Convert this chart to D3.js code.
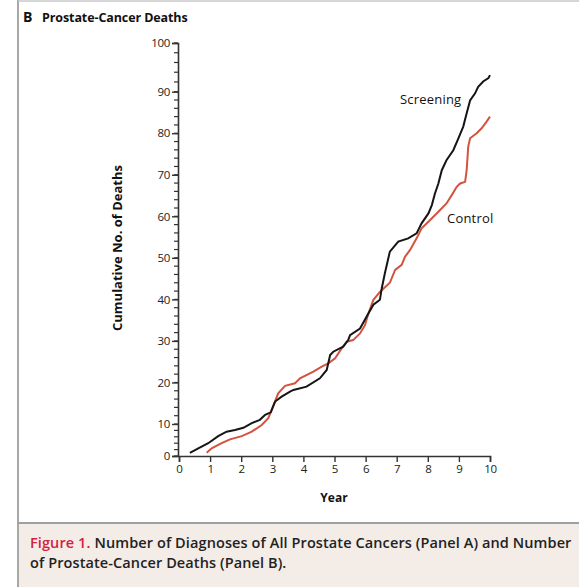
<!DOCTYPE html>
<html>
<head>
<meta charset="utf-8">
<script src="https://cdn.jsdelivr.net/npm/d3@7"></script>
<style>
  body { margin: 0; background: #fff; }
  svg text { font-family: "Open Sans", Lato, sans-serif; }
</style>
</head>
<body>
<script>
// Data: [year, cumulative deaths]
var screeningYears = [0.35, 0.62, 0.94, 1.26, 1.53, 1.80, 2.07, 2.34, 2.60, 2.77, 2.95, 3.09, 3.30, 3.57, 3.68, 4.10, 4.53, 4.75, 4.86, 4.96, 5.28, 5.44, 5.50, 5.82, 6.03, 6.25, 6.46, 6.52, 6.62, 6.78, 7.05, 7.37, 7.64, 7.80, 8.02, 8.13, 8.23, 8.34, 8.45, 8.60, 8.82, 8.98, 9.14, 9.25, 9.36, 9.52, 9.62, 9.78, 9.95, 10.0];
var screeningDeaths = [1.0, 2.4, 4.0, 6.2, 7.6, 8.1, 8.8, 10.2, 11.0, 12.2, 12.8, 15.4, 16.6, 17.8, 18.2, 19.0, 21.0, 23.0, 26.6, 27.4, 28.6, 30.2, 31.4, 33.0, 35.8, 38.7, 39.9, 42.7, 46.3, 51.5, 53.9, 54.7, 55.9, 58.3, 60.7, 62.7, 65.5, 67.9, 71.1, 73.5, 75.9, 78.7, 81.6, 84.8, 87.9, 89.6, 91.0, 92.1, 92.8, 93.4];

var controlYears = [0.89, 1.05, 1.37, 1.64, 2.02, 2.34, 2.66, 2.87, 2.98, 3.19, 3.41, 3.73, 3.89, 4.32, 4.59, 4.80, 5.02, 5.23, 5.39, 5.60, 5.82, 5.98, 6.09, 6.25, 6.46, 6.78, 6.95, 7.16, 7.27, 7.43, 7.64, 7.80, 8.02, 8.34, 8.60, 8.77, 8.93, 9.04, 9.20, 9.25, 9.30, 9.36, 9.57, 9.73, 9.89, 10.0];
var controlDeaths = [1.0, 2.4, 4.0, 5.2, 6.2, 7.6, 9.7, 11.4, 13.4, 17.4, 19.2, 19.8, 21.0, 22.6, 23.8, 24.6, 25.8, 28.2, 29.8, 30.2, 31.8, 33.8, 36.6, 39.9, 41.8, 44.0, 47.1, 48.3, 50.3, 51.9, 54.7, 57.1, 58.7, 61.1, 63.1, 65.1, 67.1, 67.9, 68.3, 71.1, 76.8, 78.8, 80.0, 81.2, 82.8, 84.0];

var xTicks = [0, 1, 2, 3, 4, 5, 6, 7, 8, 9, 10];
var yTicks = [0, 10, 20, 30, 40, 50, 60, 70, 80, 90, 100];

var width = 579,
  height = 587;

var svg = d3.select('body')
  .append('svg')
  .attr('width', width)
  .attr('height', height);

// Panel frame
svg.append('line').attr('x1', 18).attr('x2', 18).attr('y1', 0).attr('y2', height)
  .style('stroke', '#a8a8a8').style('stroke-width', 2);
svg.append('line').attr('x1', 18).attr('x2', width).attr('y1', 1).attr('y2', 1)
  .style('stroke', '#c8c8c8').style('stroke-width', 1.5);

// Title
svg.append('text').attr('x', 23).attr('y', 22).text('B')
  .style('font-size', '14px').style('font-weight', 'bold').style('fill', '#111');
svg.append('text').attr('x', 42).attr('y', 22).text('Prostate-Cancer Deaths')
  .style('font-size', '12.5px').style('font-weight', 'bold').style('fill', '#111')
  .style('letter-spacing', '-0.1px');

// Scales (the printed axis is not evenly spaced at its ends)
var xScale = d3.scaleLinear()
  .domain([0, 10])
  .range([179, 490]);

var yScale = d3.scaleLinear()
  .domain([0, 10, 90, 100])
  .range([456, 424, 91.7, 43]);

// Minor y ticks every 2
var minor = d3.range(0, 101, 2);
svg.append('g').selectAll('line')
  .data(minor)
  .enter()
  .append('line')
  .attr('x1', 174).attr('x2', 178)
  .attr('y1', function(d) { return yScale(d); })
  .attr('y2', function(d) { return yScale(d); })
  .style('stroke', '#333').style('stroke-width', 1.2);

// Axes
var yAxis = svg.append('g')
  .attr('transform', 'translate(178,0)')
  .call(d3.axisLeft(yScale).tickValues(yTicks).tickSize(6).tickPadding(2).tickFormat(d3.format('d')));

var xAxis = svg.append('g')
  .attr('transform', 'translate(0,456)')
  .call(d3.axisBottom(xScale).tickValues(xTicks).tickSize(6).tickPadding(3).tickFormat(d3.format('d')));

svg.selectAll('.domain').style('stroke', '#333').style('stroke-width', 1.6);
svg.selectAll('.tick line').style('stroke', '#333').style('stroke-width', 1.4);
svg.selectAll('.tick text').style('font-size', '11.5px').style('fill', '#222')
  .style('font-family', '"Open Sans", Lato, sans-serif').style('letter-spacing', '-0.3px');

// Axis titles
svg.append('text')
  .attr('transform', 'translate(122,248) rotate(-90)')
  .attr('text-anchor', 'middle')
  .text('Cumulative No. of Deaths')
  .style('font-size', '13px').style('font-weight', 'bold').style('fill', '#111');

svg.append('text')
  .attr('x', 334).attr('y', 502)
  .attr('text-anchor', 'middle')
  .text('Year')
  .style('font-size', '12px').style('font-weight', 'bold').style('fill', '#111');

// Lines
var line = d3.line()
  .x(function(d) { return xScale(d[0]); })
  .y(function(d) { return yScale(d[1]); });

var controlData = d3.zip(controlYears, controlDeaths);
var screeningData = d3.zip(screeningYears, screeningDeaths);

svg.append('path')
  .datum(controlData)
  .attr('d', line)
  .style('fill', 'none')
  .style('stroke', '#d2533f')
  .style('stroke-width', 2);

svg.append('path')
  .datum(screeningData)
  .attr('d', line)
  .style('fill', 'none')
  .style('stroke', '#151515')
  .style('stroke-width', 2);

// Line labels
svg.append('text').attr('x', 400).attr('y', 104).text('Screening')
  .style('font-size', '13px').style('fill', '#111').style('letter-spacing', '0.2px');
svg.append('text').attr('x', 447).attr('y', 223).text('Control')
  .style('font-size', '13px').style('fill', '#111').style('letter-spacing', '0.2px');

// Caption box
svg.append('rect').attr('x', 19).attr('y', 523).attr('width', width - 19).attr('height', height - 523)
  .style('fill', '#f4ece7');
svg.append('line').attr('x1', 18).attr('x2', width).attr('y1', 523).attr('y2', 523)
  .style('stroke', '#a0a0a0').style('stroke-width', 2);

var cap = svg.append('text').attr('x', 30).attr('y', 548)
  .style('font-size', '14.5px').style('font-weight', '600').style('fill', '#222')
  .style('letter-spacing', '0.1px');
cap.append('tspan').text('Figure 1. ').style('fill', '#d4213d');
cap.append('tspan').text('Number of Diagnoses of All Prostate Cancers (Panel A) and Number');
svg.append('text').attr('x', 30).attr('y', 568)
  .text('of Prostate-Cancer Deaths (Panel B).')
  .style('font-size', '14.5px').style('font-weight', '600').style('fill', '#222')
  .style('letter-spacing', '0.1px');
</script>
</body>
</html>
